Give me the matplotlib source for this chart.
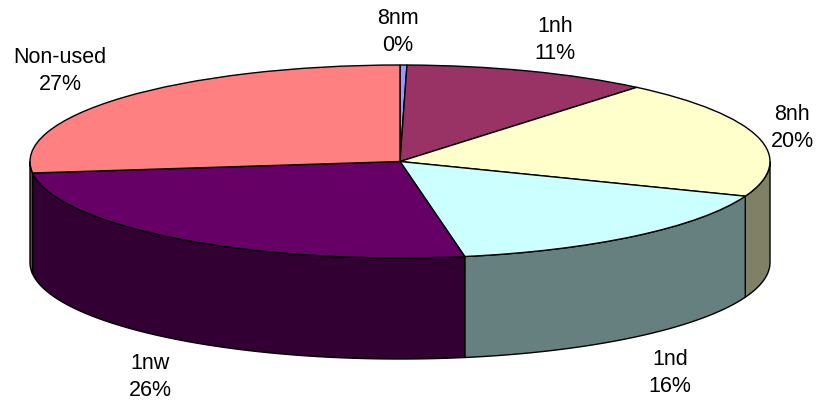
import numpy as np
import matplotlib
matplotlib.use('Agg')
import matplotlib.pyplot as plt

plt.rcParams['font.family'] = ['Liberation Sans', 'DejaVu Sans']

names = ['8nm', '1nh', '8nh', '1nd', '1nw', 'Non-used']
shares = [0.3, 10.75, 19.8, 16.35, 25.9, 26.9]
top_colors = ['#9999FF', '#993366', '#FFFFCC', '#CCFFFF', '#660066', '#FF8080']
side_colors = ['#4D4D80', '#4D1A33', '#808066', '#668080', '#330033', '#804040']

# label centres in pixels, measured from the top left corner
label_px = [(398, 32), (555, 40), (792, 128), (670, 373), (150, 377), (60, 71)]

W, H = 818, 403
cx, cy = 400, 161.5   # pie centre
rx, ry = 370, 96.5    # top ellipse radii
depth = 101 / ry      # height of the rim, in units of ry

fig = plt.figure(figsize=(W / 100, H / 100), dpi=100)
ax = fig.add_axes([0, 0, 1, 1])

wedges, _ = ax.pie(shares, colors=top_colors, startangle=90, counterclock=False,
                   wedgeprops={'edgecolor': 'black', 'linewidth': 1.0, 'zorder': 3})

# squash the circle into an ellipse
ax.set_aspect('auto')
ax.set_xlim(-cx / rx, (W - cx) / rx)
ax.set_ylim((cy - H) / ry, cy / ry)
ax.axis('off')

# rim: only the part of each wedge on the front half is visible
for w, col in zip(wedges, side_colors):
    a1, a2 = w.theta1, w.theta2
    # wedge angles can run past 360 or below 0, so bring them to 180..360
    a1, a2 = a1 % 360, a1 % 360 + (a2 - a1)
    lo, hi = max(a1, 180), min(a2, 360)
    if hi <= lo:
        continue
    t = np.radians(np.linspace(lo, hi, 200))
    xs = np.concatenate([np.cos(t), np.cos(t)[::-1]])
    ys = np.concatenate([np.sin(t), np.sin(t)[::-1] - depth])
    ax.fill(xs, ys, facecolor=col, edgecolor='black', linewidth=1.0, zorder=2)

for name, share, (px, py) in zip(names, shares, label_px):
    ax.text(px / W, 1 - py / H, f'{name}\n{share:.0f}%', transform=ax.transAxes,
            ha='center', va='center', fontsize=15.5, linespacing=1.42, color='black')

fig.savefig('out.png', dpi=100)
